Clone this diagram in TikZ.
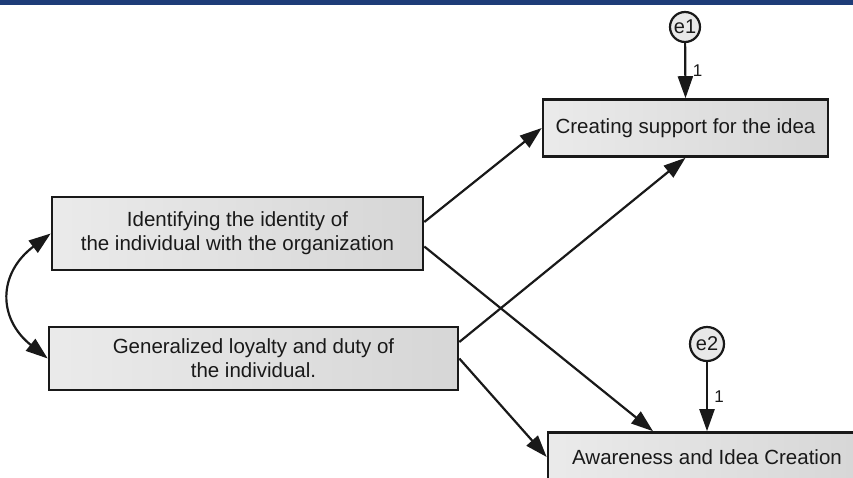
\documentclass[tikz,border=0pt]{standalone}
\usepackage{fontspec}
\setmainfont{Liberation Sans}
\usepackage{tikz}
\usetikzlibrary{arrows.meta}
\usetikzlibrary{positioning}
\definecolor{navy}{RGB}{30,60,120}
\definecolor{ink}{RGB}{25,25,25}
\tikzset{box/.style = {draw = ink, line width = 2.6pt, left color = black!8, right color = black!16,
                       align = center, inner sep = 0pt, text = ink,
                       font = \fontsize{20.5}{24}\selectfont}}
\tikzset{err/.style = {draw = ink, line width = 2.2pt, circle, fill = black!9, inner sep = 0pt,
                       text = ink, font = \fontsize{20}{22}\selectfont}}
\tikzset{arr/.style = {line width = 2.2pt, draw = ink}}
\tikzset{one/.style = {font = \fontsize{17}{19}\selectfont, text = ink}}

\begin{document}
\begin{tikzpicture}[x=1pt, y=-1pt, >={Triangle[length = 22pt, width = 15pt]}]
      \useasboundingbox (0, 0) rectangle (853, 477);
      \clip (0, 0) rectangle (853, 477);
      \fill [navy] (0, 0) rectangle (853, 5);
      \node (create) at (685.5, 128) [box, minimum width = 285, minimum height = 57] {Creating support for the idea};
      \node (ident) at (237.5, 233.5) [box, minimum width = 371, minimum height = 73] {Identifying the identity of\\the individual with the organization};
      \node (gener) at (253.5, 358.5) [box, minimum width = 409, minimum height = 63] {Generalized loyalty and duty of\\the individual.};
      \node (aware) at (707, 457) [box, minimum width = 318, minimum height = 49] {Awareness and Idea Creation};
      \node (e1) at (685, 27) [err, minimum size = 30] {e1};
      \node (e2) at (707, 344) [err, minimum size = 34] {e2};
      \draw [arr, ->] (e1) -- node [one, right = 3pt] {1} (create.north);
      \draw [arr, ->] (e2) -- node [one, right = 3pt] {1} (aware.north);
      \draw [arr, ->] ([yshift=11.5pt]ident.east) -- (create.west);
      \draw [arr, ->] ([yshift=-13pt]ident.east) -- ([xshift=-54pt]aware.north);
      \draw [arr, ->] ([yshift=16.5pt]gener.east) -- (create.south);
      \draw [arr, ->] (gener.east) -- (aware.west);
      \draw [arr, <->] (ident.west) .. controls +(-53, 40) and +(-50, -40) .. (gener.west);
    \end{tikzpicture}
\end{document}
